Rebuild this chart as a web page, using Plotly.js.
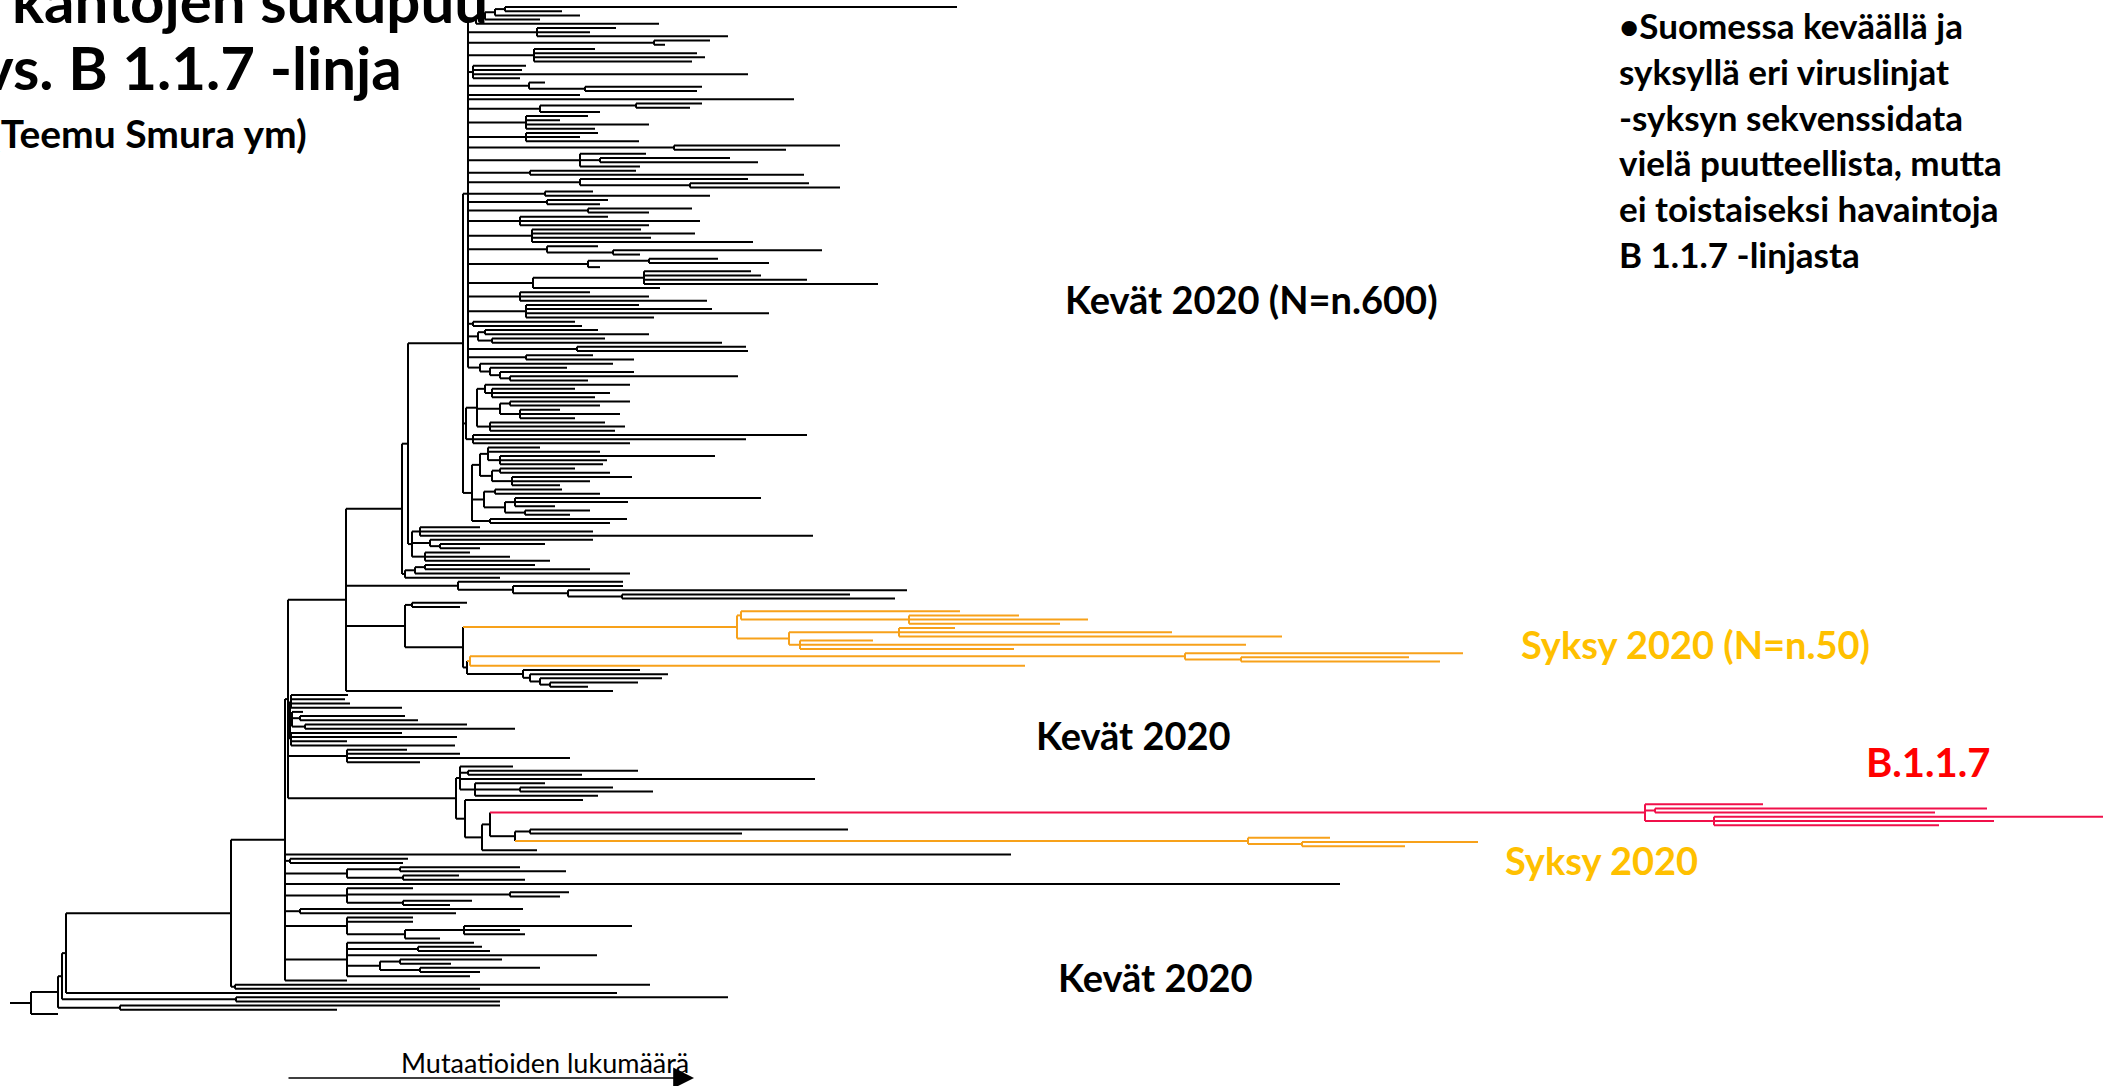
<!DOCTYPE html>
<html>
<head>
<meta charset="utf-8">
<script src="https://cdn.plot.ly/plotly-3.0.1.min.js"></script>
<style>html,body{margin:0;padding:0;background:#fff;}#chart{width:2114px;height:1086px;}</style>
</head>
<body>
<div id="chart"></div>
<script>
// ---- Tree data: nested nodes [divergence, ...children]; a bare number is a leaf tip divergence.
// A leading 'o' (autumn 2020 lineage) or 'r' (B.1.1.7) tag colours the subtree.
const upperClade = [463,
  [468,
    [476, [485, [495, [505, 957, 562], 580], 540], 659],
    [537, 616, 590, 728],
    [654, 710, 665],
    [534, 595, 697, 705, 692],
    [473, 526, 522, 748, 520],
    [529, 545, [585, 702, 697]],
    580,
    794,
    [540, [636, 702, 690], 600],
    [526, 588, 560, 649, 595],
    [526, 598, 580, 639],
    [674, 840, 786],
    [580, 646, [600, 730, 758], 640],
    [530, 636, 804],
    [580, 748, [690, 809, 840]],
    [545, 593, 710],
    [547, 608, 600],
    [588, 692, 649],
    [520, 608, 700, 649],
    [532, 641, 695, 651, 753],
    [547, 598, [613, 822, 640]],
    [588, [649, 718, 769], 600],
    [533, [644, 751, 761, 807, 878], 660],
    [520, 590, 649, 707],
    [526, 639, 712, 769, 654],
    [473, 575, 582],
    [478, [485, 598, 649], [492, 605, 722]],
    [577, 746, 748],
    [526, 593, 634],
    [480, 613, [490, 567, [500, 634, [510, 738, 588]]]]
  ],
  [466,
    [477, [485, 630, [492, 575, 610, 595]], [500, [510, 630, 600], [520, 560, 620, 575]], [490, 605, 625, 615]],
    [473, 807, 746, 630]
  ],
  [472, [480, [488, 540, 600, [500, 715, 607, 603]], [492, [500, 575, 610], [512, 632, 590, 560]]],
        [484, [495, 562, 600], [505, [515, 761, 628, 555], [525, 590, 570]]], [490, 627, 610]]
];
const upperSub = [412, [420, 480, 593, 813], [430, 593, [440, 545, 480]], [425, 470, 510, 550]];
const upperLadder = [405, [415, [425, 535, 590], 630], 500];
const midClade = [458, 623, [513, 623, [568, 907, [622, 850, 895]]]];
const autumnA = ['o', 737, [741, 960, [909, 1019, 1088, 1060]], [789, [899, 955, 1172, 1282], [800, 873, 1246, 1014]]];
const autumnB = ['o', 470, [1185, 1463, [1241, 1409, 1440]], 1025];
const springLadder = [523, 640, [530, 668, [540, 662, [550, 638, 588]]]];
const springCluster = [290, [291, 348, 345, 350, 402], [292, 303, [300, 405, 418], [305, 467, 515]], [291, 402, 457, 347, 455]];
const springSmall = [347, 407, 460, 570, 420];
const sisterB117 = [460, 513, [468, 638, 582], 815, [475, 545, [520, 613, 653], 598]];
const lineageB117 = ['r', 1645, 1763, [1655, 1987, 1935], [1714, 2103, 1994, 1939]];
const autumnC = [515, [530, 848, 742], ['o', 568, [1248, 1330, [1302, 1478, 1405]]]];
const lowerTail = [
  1011,
  [290, 408, 403],
  [347, [400, 520, 566], [403, 459, 525]],
  1340,
  [347, 413, [510, 569, 560], [403, 472, 450]],
  [300, 523, 456],
  [347, 413, 413, [405, [464, 632, 520, 525], 440]],
  [347, 474, [418, 482, 490], 597, [380, [400, 502, 451], [420, 540, 480]], 470],
  347
];
const basalGroups = { d: [235, 650, 480], c: 617, b: [236, 728, 500], a: [120, 500, 337], r: 58 };
const rootStem = 10;

// ---- assemble tree
const P = [346, [402, [408, upperClade, upperSub], upperLadder], midClade,
           [405, [412, 467, 460], [463, autumnA, [467, autumnB, springLadder]]], 613];
const Q = [456, sisterB117, [465, 583, [482, [490, lineageB117, autumnC], 537]]];
const L = [285, [288, P, springCluster, springSmall, Q]].concat(lowerTail);
const tree = [31, [58, [62, [66, [231, L, basalGroups.d], basalGroups.c], basalGroups.b], basalGroups.a], basalGroups.r];

// ---- layout (rectangular phylogram)
function countLeaves(n){ if (typeof n === 'number') return 1; let s=0; const st = (typeof n[0]==='string')?2:1; for (let i=st;i<n.length;i++) s+=countLeaves(n[i]); return s; }
const nLeaves = countLeaves(tree);
const yTop = 7, yBot = 1014;
const step = (yBot - yTop) / (nLeaves - 1);
let leafIdx = 0;
const segs = { k: {x:[], y:[]}, o: {x:[], y:[]}, r: {x:[], y:[]} };
function seg(col, x0, y0, x1, y1){ const s = segs[col]; s.x.push(x0, x1, null); s.y.push(y0, y1, null); }
function lay(node, parentX, col){
  if (typeof node === 'number'){
    const y = yTop + step * (leafIdx++);
    seg(col, parentX, y, node, y);
    return y;
  }
  let c = col, st = 1;
  if (typeof node[0] === 'string'){ c = node[0]; st = 2; }
  const x = node[st-1];
  const ys = [];
  for (let i = st; i < node.length; i++) ys.push(lay(node[i], x, c));
  const y = (ys[0] + ys[ys.length-1]) / 2;
  seg(c, x, ys[0], x, ys[ys.length-1]);
  seg(c, parentX, y, x, y);
  return y;
}
lay(tree, rootStem, 'k');

const colors = { k: '#000000', o: '#F7A11A', r: '#F0104A' };
const traces = ['k','o','r'].map(k => ({
  type: 'scatter', mode: 'lines', x: segs[k].x, y: segs[k].y,
  line: { color: colors[k], width: 2 }, hoverinfo: 'skip', connectgaps: false
}));

const F = 'Lato, "Open Sans", sans-serif';
function ann(text, x, y, size, color, xanchor, bold){
  return { text: bold===false ? text : '<b>'+text+'</b>', x: x, y: y, xref: 'x', yref: 'y', showarrow: false,
    xanchor: xanchor || 'center', yanchor: 'middle', font: { family: F, size: size, color: color || '#000' } };
}
const noteLines = ['•Suomessa keväällä ja', 'syksyllä eri viruslinjat', '-syksyn sekvenssidata',
  'vielä puutteellista, mutta', 'ei toistaiseksi havaintoja', 'B 1.1.7 -linjasta'];
const annotations = [
  ann('kantojen sukupuu', 490, 0, 60, '#000', 'right'),
  ann('vs. B 1.1.7 -linja', 404, 67, 60, '#000', 'right'),
  ann('(Teemu Smura ym)', 309, 133, 39, '#000', 'right'),
  ann('Kevät 2020 (N=n.600)', 1251, 299, 38),
  ann('Syksy 2020 (N=n.50)', 1695, 644, 38, '#FFC000'),
  ann('Kevät 2020', 1133, 735, 38),
  ann('B.1.1.7', 1928, 762, 40, '#FF0000'),
  ann('Syksy 2020', 1601, 860, 38, '#FFC000'),
  ann('Kevät 2020', 1155, 977, 38),
  ann('Mutaatioiden lukumäärä', 545, 1062, 27, '#000', 'center', false),
  { x: 694, y: 1078, ax: 287, ay: 1078, axref: 'x', ayref: 'y', xref: 'x', yref: 'y', text: '',
    showarrow: true, arrowhead: 2, arrowsize: 2.6, arrowwidth: 1.6, arrowcolor: '#000' }
];
noteLines.forEach((t, i) => annotations.push(ann(t, 1617, 25 + i * 45.8, 35, '#000', 'left')));

const layout = {
  width: 2114, height: 1086, margin: { l: 0, r: 0, t: 0, b: 0, pad: 0 },
  paper_bgcolor: '#fff', plot_bgcolor: '#fff', showlegend: false,
  xaxis: { range: [0, 2114], visible: false, fixedrange: true },
  yaxis: { range: [1086, 0], visible: false, fixedrange: true },
  annotations: annotations
};
Plotly.newPlot('chart', traces, layout, { staticPlot: true, displayModeBar: false });
</script>
</body>
</html>
